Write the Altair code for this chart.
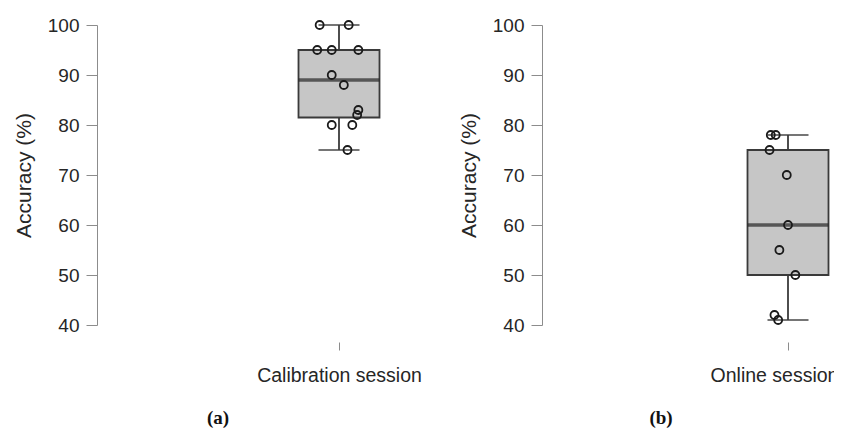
import altair as alt
import pandas as pd

# ---- data ----
calib_acc = [100, 100, 95, 95, 95, 90, 88, 83, 82, 80, 80, 75]
calib_jitter = [-0.08, 0.04, -0.09, -0.03, 0.08, -0.03, 0.02, 0.08, 0.075, -0.03, 0.055, 0.035]
online_acc = [78, 78, 75, 70, 60, 55, 50, 42, 41]
online_jitter = [-0.07, -0.05, -0.075, -0.005, 0.0, -0.035, 0.03, -0.055, -0.04]
sessions = ["Calibration session", "Online session"]
panel_labels = ["(a)", "(b)"]
y_ticks = [40, 50, 60, 70, 80, 90, 100]

FONT = "Liberation Sans"
DARK = "#262626"
BOX_LINE = "#3a3a3a"
AXIS_GRAY = "#8c8c8c"


def panel(name, acc, jitter, width, xmax, label, label_dx, label_shift):
    df = pd.DataFrame({"session": name, "acc": acc, "jit": jitter})
    base = alt.Chart(df)
    xscale = alt.Scale(domain=[0, xmax], nice=False, zero=False, padding=0)
    xaxis = alt.Axis(values=[1], labelExpr=f"'{name}'", title=None, domain=False,
                     grid=False, offset=17, tickSize=8, tickColor=AXIS_GRAY,
                     labelPadding=16, labelFontSize=19.5, labelColor=DARK, labelFont=FONT,
                     labelOffset=label_shift)
    yscale = alt.Scale(domain=[40, 100], nice=False, zero=False, padding=0)
    yaxis = alt.Axis(values=y_ticks, title="Accuracy (%)", grid=False, tickSize=11,
                     tickColor=AXIS_GRAY, domainColor=AXIS_GRAY, labelPadding=7,
                     labelFontSize=19, labelColor=DARK, labelFont=FONT,
                     titleFont=FONT, titleFontSize=21, titleFontWeight="normal",
                     titleColor=DARK, titlePadding=13)

    stats = base.transform_aggregate(
        q1="q1(acc)", q3="q3(acc)", med="median(acc)", lo="min(acc)", hi="max(acc)",
        groupby=["session"]
    ).transform_calculate(pos="1")

    X = alt.X("pos:Q", scale=xscale, axis=xaxis)
    whisk_lo = stats.mark_rule(color=BOX_LINE, strokeWidth=1.8).encode(
        x=X, y=alt.Y("lo:Q", scale=yscale, axis=yaxis), y2="q1:Q")
    whisk_hi = stats.mark_rule(color=BOX_LINE, strokeWidth=1.8).encode(
        x=X, y=alt.Y("q3:Q", scale=yscale, axis=yaxis), y2="hi:Q")
    box = stats.mark_bar(size=81, fill="#c6c6c6", stroke=BOX_LINE, strokeWidth=1.8).encode(
        x=X, y=alt.Y("q1:Q", scale=yscale, axis=yaxis), y2="q3:Q")
    med = stats.mark_tick(orient="horizontal", size=81, thickness=3.5, color=DARK).encode(
        x=X, y=alt.Y("med:Q", scale=yscale, axis=yaxis))
    cap_lo = stats.mark_tick(orient="horizontal", size=41, thickness=1.8, color=BOX_LINE).encode(
        x=X, y=alt.Y("lo:Q", scale=yscale, axis=yaxis))
    cap_hi = stats.mark_tick(orient="horizontal", size=41, thickness=1.8, color=BOX_LINE).encode(
        x=X, y=alt.Y("hi:Q", scale=yscale, axis=yaxis))
    pts = base.transform_calculate(px="1 + datum.jit").mark_point(
        shape="circle", size=64, filled=False, stroke="#1a1a1a", strokeWidth=1.8, opacity=1
    ).encode(
        x=alt.X("px:Q", scale=xscale, axis=xaxis),
        y=alt.Y("acc:Q", scale=yscale, axis=yaxis),
    )
    return alt.layer(whisk_lo, whisk_hi, box, med, cap_lo, cap_hi, pts).properties(
        width=width, height=300,
        title=alt.TitleParams(label, orient="bottom", anchor="middle", frame="group",
                              dx=label_dx, offset=24, font="Liberation Serif",
                              fontSize=19, fontWeight="bold", color="#111111"),
    )


left = panel(sessions[0], calib_acc, calib_jitter, 330, 330 / 242, panel_labels[0], -44, 0)
right = panel(sessions[1], online_acc, online_jitter, 290, 290 / 246, panel_labels[1], -26, -14)

chart = alt.hconcat(left, right, spacing=31).properties(
    padding={"left": 5, "top": 8, "right": -4, "bottom": 3},
    background="white",
).configure_view(strokeWidth=0)

chart.save("out.html", embed_options={"renderer": "svg", "actions": False})
